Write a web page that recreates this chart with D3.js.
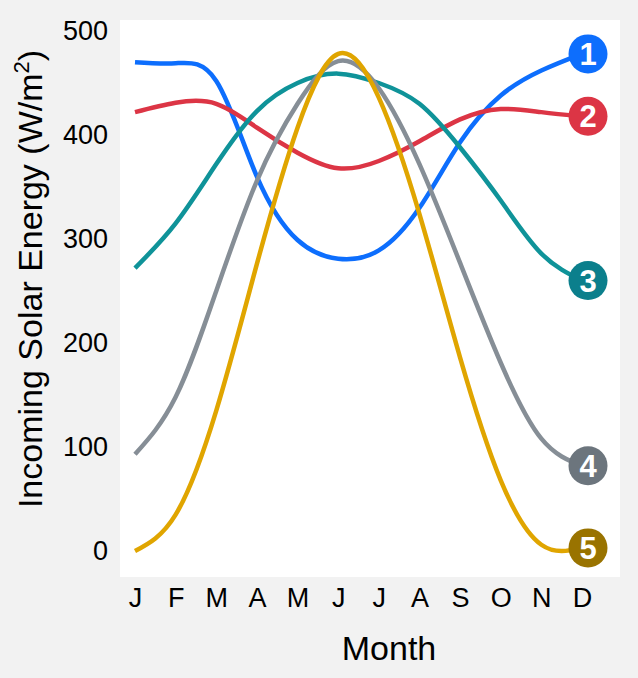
<!DOCTYPE html>
<html>
<head>
<meta charset="utf-8">
<script src="https://cdn.jsdelivr.net/npm/d3@7"></script>
<style>
  html, body { margin: 0; padding: 0; background: #f2f2f2; }
  svg { display: block; font-family: "Liberation Sans", Arial, sans-serif; }
</style>
</head>
<body>
<svg id="chart" width="638" height="678"></svg>
<script>
const months = ['J', 'F', 'M', 'A', 'M', 'J', 'J', 'A', 'S', 'O', 'N', 'D'];
const yTicks = [0, 100, 200, 300, 400, 500];

// monthly values (W/m2)
const series1 = [470, 469, 452, 360, 299, 281, 289, 330, 393, 438, 462, 478];
const series2 = [422, 431, 430, 407, 383, 368, 375, 394, 415, 425, 422, 418];
const series3 = [272, 315, 372, 423, 450, 459, 450, 430, 388, 337, 286, 260];
const series4 = [93, 148, 250, 356, 430, 471, 445, 372, 277, 181, 108, 82];
const series5 = [0, 35, 135, 276, 407, 478, 436, 324, 186, 68, 6, 3];

const seriesList = [series1, series2, series3, series4, series5];
const lineColors = ['#0d6efd', '#dc3545', '#0f9399', '#868e96', '#e0a500'];
const badgeColors = ['#0d6efd', '#dc3545', '#0b7f8c', '#6c757d', '#997300'];

const svg = d3.select('#chart');
const plot = { left: 120, top: 20, right: 620, bottom: 577 };

const x = d3.scaleLinear().domain([0, 11]).range([135, 582]);
const y = d3.scaleLinear().domain([0, 500]).range([551, 31]);

svg.append('rect')
    .attr('x', plot.left).attr('y', plot.top)
    .attr('width', plot.right - plot.left).attr('height', plot.bottom - plot.top)
    .attr('fill', '#ffffff');

// y axis tick labels
const yAxis = d3.axisLeft(y).tickValues(yTicks).tickSize(0).tickPadding(0);
const gy = svg.append('g').attr('transform', 'translate(108,0)').call(yAxis);
gy.select('.domain').remove();
gy.selectAll('text').attr('font-size', 27).attr('fill', '#000')
    .attr('font-family', '"Liberation Sans", Arial, sans-serif');

// x axis tick labels
const xAxis = d3.axisBottom(x).tickValues(d3.range(12)).tickFormat(i => months[i]).tickSize(0).tickPadding(0);
const gx = svg.append('g').attr('transform', 'translate(0,588)').call(xAxis);
gx.select('.domain').remove();
gx.selectAll('text').attr('font-size', 27).attr('fill', '#000')
    .attr('font-family', '"Liberation Sans", Arial, sans-serif');

// axis titles
svg.append('text')
    .attr('x', 389).attr('y', 660)
    .attr('text-anchor', 'middle').attr('font-size', 34)
    .text('Month');

const yTitle = svg.append('text')
    .attr('transform', 'translate(42,279) rotate(-90)')
    .attr('text-anchor', 'middle').attr('font-size', 34);
yTitle.append('tspan').text('Incoming Solar Energy (W/m');
yTitle.append('tspan').attr('font-size', 22).attr('dy', -13).text('2');
yTitle.append('tspan').attr('dy', 13).text(')');

// lines
const line = d3.line()
    .x((d, i) => x(i))
    .y(d => y(d))
    .curve(d3.curveNatural);

seriesList.forEach((s, k) => {
    svg.append('path')
        .datum(s)
        .attr('d', line)
        .attr('fill', 'none')
        .attr('stroke', lineColors[k])
        .attr('stroke-width', 4.5);
});

// numbered badges at line ends
seriesList.forEach((s, k) => {
    const cx = x(11) + 6, cy = y(s[11]);
    svg.append('circle')
        .attr('cx', cx).attr('cy', cy).attr('r', 19.5)
        .attr('fill', badgeColors[k]);
    svg.append('text')
        .attr('x', cx).attr('y', cy)
        .attr('text-anchor', 'middle').attr('dy', '0.36em')
        .attr('font-size', 31).attr('font-weight', 'bold').attr('fill', '#fff')
        .text(k + 1);
});
</script>
</body>
</html>
